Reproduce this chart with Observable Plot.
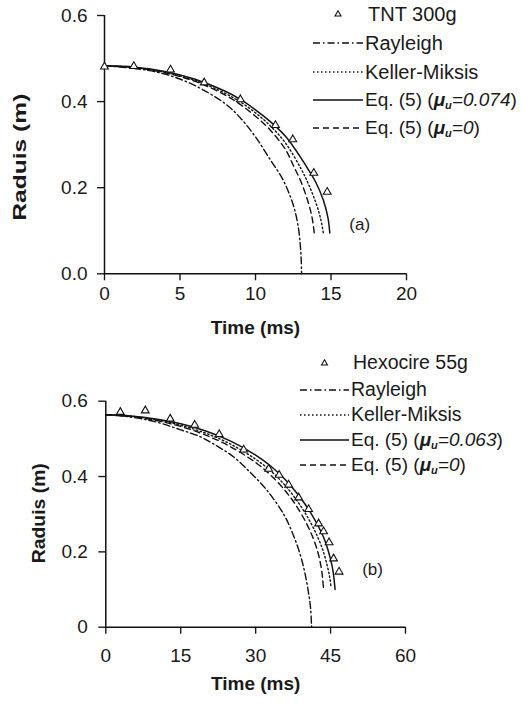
<!DOCTYPE html>
<html>
<head>
<meta charset="utf-8">
<script src="https://cdn.jsdelivr.net/npm/d3@7"></script>
<script src="https://cdn.jsdelivr.net/npm/@observablehq/plot@0.6"></script>
<style>
  body { margin: 0; background: #fff; }
  #wrap { position: relative; width: 523px; height: 704px; overflow: hidden;
          font-family: "Liberation Sans", Arial, sans-serif; color: #1a1a1a; }
  .panel { position: absolute; left: 0; }
  .row { position: absolute; white-space: nowrap; line-height: 1; transform: translateY(-50%); }
  .sample { position: absolute; }
  sub { font-size: 11px; vertical-align: -3px; }
</style>
</head>
<body>
<div id="wrap"></div>
<script>
// ---------- Data ----------
// Panel (a): TNT 300g
const tntTime   = [0, 1.94, 4.37, 6.6, 9.0, 11.32, 12.47, 13.86, 14.75];
const tntRadius = [0.481, 0.482, 0.474, 0.444, 0.405, 0.345, 0.312, 0.234, 0.190];

const rayATime   = [0, 2, 4, 6, 8, 9, 10, 11, 11.8, 12.3, 12.6, 12.85, 12.97, 13.03, 13.05];
const rayARadius = [0.483, 0.477, 0.464, 0.437, 0.395, 0.362, 0.318, 0.264, 0.220, 0.180, 0.148, 0.105, 0.065, 0.030, 0];
const kmATime    = [0, 2, 4, 6, 8, 9, 10, 11, 12, 13, 13.5, 14, 14.3, 14.5];
const kmARadius  = [0.483, 0.479, 0.468, 0.449, 0.419, 0.399, 0.374, 0.343, 0.303, 0.245, 0.209, 0.165, 0.130, 0.093];
const eqATime    = [0, 2, 4, 6, 8, 9, 10, 11, 12, 13, 13.5, 14, 14.5, 14.8, 14.92];
const eqARadius  = [0.483, 0.480, 0.470, 0.452, 0.424, 0.405, 0.381, 0.353, 0.319, 0.270, 0.242, 0.212, 0.170, 0.130, 0.095];
const eq0ATime   = [0, 2, 4, 6, 8, 9, 10, 11, 12, 12.5, 13, 13.5, 13.75, 13.9];
const eq0ARadius = [0.483, 0.479, 0.467, 0.447, 0.415, 0.393, 0.366, 0.333, 0.288, 0.252, 0.215, 0.165, 0.130, 0.093];

// Panel (b): Hexocire 55g
const hexTime   = [2.9, 7.9, 12.9, 17.8, 22.7, 27.6, 32.6, 34.7, 36.6, 38.6, 40.6, 42.6, 43.6, 44.7, 45.6, 46.7];
const hexRadius = [0.571, 0.575, 0.553, 0.537, 0.512, 0.471, 0.420, 0.404, 0.378, 0.344, 0.313, 0.275, 0.254, 0.225, 0.182, 0.147];

const rayBTime   = [0, 5, 10, 15, 19, 22, 25.6, 29, 32.3, 35.6, 37, 38.3, 39.3, 40, 40.6, 41, 41.2];
const rayBRadius = [0.564, 0.558, 0.545, 0.524, 0.505, 0.483, 0.452, 0.410, 0.363, 0.300, 0.262, 0.218, 0.175, 0.135, 0.090, 0.050, 0];
const kmBTime    = [0, 5, 10, 15, 20, 25, 30, 33, 36, 39, 41, 42.5, 43.5, 44.3, 44.8, 45.1];
const kmBRadius  = [0.564, 0.560, 0.551, 0.536, 0.515, 0.486, 0.446, 0.415, 0.375, 0.322, 0.278, 0.237, 0.203, 0.165, 0.135, 0.105];
const eqBTime    = [0, 5, 10, 15, 20, 25, 30, 33, 36, 39, 41, 43, 44, 45, 45.5, 45.9];
const eqBRadius  = [0.564, 0.561, 0.553, 0.540, 0.521, 0.494, 0.457, 0.428, 0.391, 0.343, 0.304, 0.256, 0.225, 0.180, 0.148, 0.100];
const eq0BTime   = [0, 5, 10, 15, 20, 25, 30, 33, 36, 38, 40, 41.5, 42.5, 43.1, 43.4, 43.6];
const eq0BRadius = [0.564, 0.559, 0.549, 0.533, 0.510, 0.479, 0.437, 0.404, 0.361, 0.325, 0.280, 0.237, 0.197, 0.160, 0.130, 0.100];

// Ticks and labels
const xTicksA = [0, 5, 10, 15, 20];
const yTicksA = [0, 0.2, 0.4, 0.6];
const yTickLabelsA = ["0.0", "0.2", "0.4", "0.6"];
const xTicksB = [0, 15, 30, 45, 60];
const yTicksB = [0, 0.2, 0.4, 0.6];
const yTickLabelsB = ["0", "0.2", "0.4", "0.6"];
const xLabel = "Time (ms)";
const yLabel = "Raduis (m)";
const seriesNames = ["Rayleigh", "Keller-Miksis", "Eq. (5) mu", "Eq. (5) mu0"];
const datasetA = "TNT 300g";
const datasetB = "Hexocire 55g";
const muA = "0.074";
const muB = "0.063";
const tagA = "(a)";
const tagB = "(b)";

// ---------- Helpers ----------
const zip = (ts, rs) => ts.map((t, i) => ({t, r: rs[i]}));
const DASH = {
  "Rayleigh": "7,3,1.5,3",
  "Keller-Miksis": "1.5,2.5",
  "Eq. (5) mu": null,
  "Eq. (5) mu0": "6,4"
};
const FONT = "'Liberation Sans', Arial, sans-serif";

function panel(o) {
  const lines = o.series.map((s, i) => Plot.line(s, {
    x: "t", y: "r", stroke: "#111", strokeWidth: i === 2 ? 1.5 : 1.4,
    strokeDasharray: DASH[seriesNames[i]] || undefined, curve: "catmull-rom"
  }));
  const svg = Plot.plot({
    width: 523, height: o.height,
    marginLeft: o.ml, marginRight: o.mr, marginTop: o.mt, marginBottom: o.mb,
    style: {fontFamily: FONT, fontSize: "19px", color: "#1a1a1a", background: "white", overflow: "visible"},
    x: {domain: o.xDomain},
    y: {domain: [0, 0.6]},
    marks: [
      Plot.axisX({ticks: o.xTicks, tickSize: 7, tickPadding: o.xPad, strokeWidth: 1.4, fontSize: 19, label: null}),
      Plot.axisY({ticks: o.yTicks, tickSize: 7, tickPadding: o.yPad, strokeWidth: 1.4, fontSize: 19, label: null,
                  tickFormat: (d) => o.yLabels[o.yTicks.indexOf(d)] ?? String(d)}),
      Plot.ruleY([0], {stroke: "#111", strokeWidth: 1.5}),
      Plot.ruleX([0], {stroke: "#111", strokeWidth: 1.5}),
      ...lines,
      Plot.dot(o.points, {x: "t", y: "r", symbol: "triangle", r: 2.9, fill: "white", stroke: "#111", strokeWidth: 1.1}),
      Plot.text([o.tag], {x: () => o.tagPos[0], y: () => o.tagPos[1], fontSize: 17, fill: "#1a1a1a"}),
      Plot.text([xLabel], {frameAnchor: "bottom", dy: o.xLabDy, fontSize: 19, fontWeight: "bold", fill: "#1a1a1a"}),
      Plot.text([yLabel], {frameAnchor: "left", rotate: -90, textAnchor: "start", dx: o.yLabDx, dy: o.yLabDy,
                           fontSize: 19, fontWeight: "bold", fill: "#1a1a1a"})
    ]
  });
  const t = Array.from(svg.querySelectorAll("text")).find(e => e.textContent === yLabel);
  if (t && o.yLabLen) { t.setAttribute("textLength", o.yLabLen); t.setAttribute("lengthAdjust", "spacingAndGlyphs"); }
  return svg;
}

function legend(container, cfg) {
  const rows = [];
  rows.push({y: cfg.ys[0], html: cfg.dataset, marker: true});
  rows.push({y: cfg.ys[1], html: seriesNames[0], dash: DASH["Rayleigh"]});
  rows.push({y: cfg.ys[2], html: seriesNames[1], dash: DASH["Keller-Miksis"]});
  rows.push({y: cfg.ys[3], html: `Eq. (5) (<i><b>&mu;<sub>u</sub></b>=${cfg.mu}</i>)`, dash: null, eq: true});
  rows.push({y: cfg.ys[4], html: `Eq. (5) (<i><b>&mu;<sub>u</sub></b>=0</i>)`, dash: DASH["Eq. (5) mu0"], eq: true});
  rows.forEach((r) => {
    const s = document.createElementNS("http://www.w3.org/2000/svg", "svg");
    s.setAttribute("class", "sample");
    s.setAttribute("width", cfg.x1 - cfg.x0 + 4);
    s.setAttribute("height", 10);
    s.style.left = (cfg.x0 - 2) + "px";
    s.style.top = (r.y - 5) + "px";
    if (r.marker) {
      const cx = (cfg.x1 - cfg.x0) / 2 + 2;
      s.innerHTML = `<polygon points="${cx},1.8 ${cx + 3},7 ${cx - 3},7" fill="white" stroke="#111" stroke-width="1.1"/>`;
    } else {
      s.innerHTML = `<line x1="2" x2="${cfg.x1 - cfg.x0 + 2}" y1="5" y2="5" stroke="#111" stroke-width="${r.dash ? 1.4 : 1.6}" ${r.dash ? `stroke-dasharray="${r.dash}"` : ""}/>`;
    }
    container.appendChild(s);
    const d = document.createElement("div");
    d.className = "row";
    d.style.fontSize = (r.eq ? cfg.fsEq : cfg.fs) + "px";
    d.style.left = (r.marker ? cfg.tx0 : cfg.tx) + "px";
    d.style.top = r.y + "px";
    d.innerHTML = r.html;
    container.appendChild(d);
  });
}

// ---------- Build ----------
const wrap = document.getElementById("wrap");

const topDiv = document.createElement("div");
topDiv.className = "panel"; topDiv.style.top = "0px";
topDiv.appendChild(panel({
  height: 350, ml: 104, mr: 117, mt: 15, mb: 76.7,
  xDomain: [0, 20], xTicks: xTicksA, yTicks: yTicksA, yLabels: yTickLabelsA,
  xPad: 6, yPad: 10,
  series: [zip(rayATime, rayARadius), zip(kmATime, kmARadius), zip(eqATime, eqARadius), zip(eq0ATime, eq0ARadius)],
  points: zip(tntTime, tntRadius),
  tag: tagA, tagPos: [16.9, 0.115],
  xLabDy: 60, yLabDx: -85, yLabDy: 76, yLabLen: 127
}));
wrap.appendChild(topDiv);

const botDiv = document.createElement("div");
botDiv.className = "panel"; botDiv.style.top = "350px";
botDiv.appendChild(panel({
  height: 354, ml: 105.3, mr: 118, mt: 50.7, mb: 77.3,
  xDomain: [0, 60], xTicks: xTicksB, yTicks: yTicksB, yLabels: yTickLabelsB,
  xPad: 14, yPad: 11,
  series: [zip(rayBTime, rayBRadius), zip(kmBTime, kmBRadius), zip(eqBTime, eqBRadius), zip(eq0BTime, eq0BRadius)],
  points: zip(hexTime, hexRadius),
  tag: tagB, tagPos: [53.4, 0.153],
  xLabDy: 63, yLabDx: -67, yLabDy: 49, yLabLen: 100
}));
wrap.appendChild(botDiv);

legend(wrap, {ys: [14, 43, 72, 100, 128], x0: 313, x1: 363, tx: 365, tx0: 368, fs: 20, fsEq: 19, dataset: datasetA, mu: muA});
legend(wrap, {ys: [363, 390, 415, 440, 465], x0: 300, x1: 349, tx: 351, tx0: 353, fs: 19.5, fsEq: 19, dataset: datasetB, mu: muB});
</script>
</body>
</html>
